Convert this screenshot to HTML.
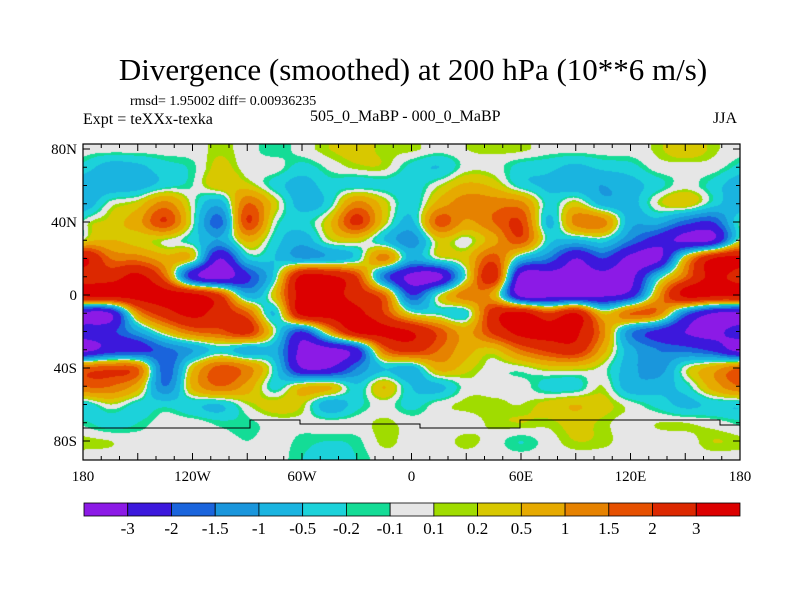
<!DOCTYPE html>
<html><head><meta charset="utf-8"><style>
body{margin:0;background:#fff;width:800px;height:600px;overflow:hidden;font-family:"Liberation Serif",serif;position:relative}
.t{position:absolute;white-space:nowrap;color:#000}
</style></head><body>
<div class="t" style="left:0;width:826px;text-align:center;top:52px;font-size:31px">Divergence (smoothed) at 200 hPa (10**6 m/s)</div>
<div class="t" style="left:130px;top:94px;font-size:14px">rmsd= 1.95002 diff= 0.00936235</div>
<div class="t" style="left:83px;top:111px;font-size:16px">Expt = teXXx-texka</div>
<div class="t" style="left:310px;top:108px;font-size:16px">505_0_MaBP - 000_0_MaBP</div>
<div class="t" style="left:713px;top:110px;font-size:16px">JJA</div>
<canvas id="map" width="657" height="316" style="position:absolute;left:83px;top:144px"></canvas>
<svg id="ov" width="800" height="600" style="position:absolute;left:0;top:0"></svg>
<script>
const lons=[-180,-165,-150,-135,-120,-105,-90,-75,-60,-45,-30,-15,0,15,30,45,60,75,90,105,120,135,150,165,180];
const lats=[80,70,60,50,40,30,20,10,0,-10,-20,-30,-40,-50,-60,-70,-80,-90];
const r80=[0,0,0,0,0,0.15,0,-0.2,0,0.2,0.3,0.15,0.15,0,0.1,0.15,0.15,0,0,0,0,0.15,0.4,0.15,0];
const r70=[-0.3,-0.7,-0.6,-0.3,-0.15,0.3,0,0,-0.3,-0.05,0.15,0.15,-0.3,-0.5,0,0,-0.3,-0.4,-0.6,-0.4,-0.3,0,0,0,-0.3];
const r60=[-0.8,-0.8,-0.7,-0.3,-0.1,0.4,0.3,-0.3,-0.7,-0.3,-0.3,-0.3,-0.4,0.1,0.6,0.4,-0.3,-0.6,-0.8,-1.0,-0.7,-0.3,0,-0.3,-0.8];
const r50=[-0.8,0,0.3,1.2,0,-0.8,1.5,0.3,-0.7,-0.3,1.2,0.3,-0.4,0.7,1.3,1.3,1.2,-0.3,0.3,-0.7,-0.7,0.1,0.4,-0.3,-0.8];
const r40=[-0.1,0.3,0.8,2,0,-1.7,2,0,-0.3,0.4,2.2,0.3,-0.6,1.7,0.9,1.5,2,-0.6,1.2,1.2,-0.8,-0.8,-1.7,-2,-0.1];
const r30=[0.1,0.5,0.3,0.1,-0.3,-1,0.6,-0.3,-0.8,0.1,0.3,-0.5,-1.3,0.3,0,0.8,1.8,-0.3,-0.6,-0.3,-1.5,-2.5,-3.2,-3,0.1];
const r20=[3.2,1.5,1.3,0.7,0.3,-3,-0.5,-0.5,-1,-0.8,-0.3,1.2,-0.8,0,0.4,1.8,-0.6,-1.5,-3,-2,-3.3,-3.3,0.5,3,3.2];
const r10=[2.5,2.5,3.3,1.5,-2.5,-3.5,-2.2,-0.3,3.3,3.2,2,-1.5,-3.3,-3.3,0,2.5,-3.4,-3.5,-3.4,-3.3,-3.3,-0.5,1.5,3.3,2.5];
const r0=[3.3,3.4,3.5,3.5,3.3,2,-0.8,0.4,3.5,3.5,2.5,1.5,-2,0,1.3,0.7,-3.4,-3.5,-3.4,-3.2,-2.5,0.8,3.3,3.3,3.3];
const rS10=[-3.3,-3,1,2.5,3.3,2.5,1.6,-0.5,3.4,3.5,3.3,2,0.1,-0.2,-0.3,2.5,3.3,2,3,0.4,1.5,1.3,-1.5,-3,-3.3];
const rS20=[-2.5,-2.2,-1,0.4,1.5,1.8,2.3,0,-2,0.8,3.3,3.3,3,1.8,0.8,2.2,3.4,3.4,3.2,1.2,-1.3,-2.2,-3,-3.3,-2.5];
const rS30=[-3.3,-2.5,-2.3,-1.7,-1,-0.3,-0.8,-0.8,-3.3,-3.3,-2.3,1.5,2.3,1.5,0.7,0.4,1.5,2.2,2.5,0.7,-0.8,-1.5,-1.7,-2.2,-3.3];
const rS40=[1.5,1.8,1.5,-1.8,0.4,1.7,1.2,-0.3,-3,-3,-1.5,-0.5,-0.7,0.7,0.3,0,0,0.3,0.3,0,-0.8,-1.3,0,0.7,1.5];
const rS50=[1.5,1.5,0.7,-1.5,0.6,1.5,0.8,-0.3,0.4,0.5,-0.4,0.5,-0.5,-0.6,0,0,0,-0.3,-0.3,0.1,-0.8,-0.7,-0.3,0.7,1.5];
const rS60=[-0.4,0.1,-0.3,-0.3,-0.4,-0.5,0.1,0.3,0.2,-0.8,-0.3,0,-0.3,0,0.15,0.15,0.1,0.3,0.5,0.3,0,-0.3,-0.6,-0.4,-0.4];
const rS70=[-0.15,-0.3,-0.2,0,0,-0.15,-0.15,0,0,0,0,0.15,0,0,0,0.15,0.2,0.15,0.3,0.15,0,0.1,0.1,0,-0.15];
const rS80=[0.15,0.1,0,0,0,0,-0.1,0,-0.15,-0.2,-0.15,0.15,0,0,0.15,0,-0.2,0,0.2,0.15,0,0,0,0.2,0.15];
const rS90=[0,0,0,0,0,0,0,0,-0.2,-0.2,-0.2,0,0,0,0,0,0,0,0,0,0,0,0,0,0];
const field=[r80,r70,r60,r50,r40,r30,r20,r10,r0,rS10,rS20,rS30,rS40,rS50,rS60,rS70,rS80,rS90];
const levels=[-3,-2,-1.5,-1,-0.5,-0.2,-0.1,0.1,0.2,0.5,1,1.5,2,3];
const levelLabels=["-3","-2","-1.5","-1","-0.5","-0.2","-0.1","0.1","0.2","0.5","1","1.5","2","3"];
const colors=["#8c1ae6","#3c18dc","#1a64dc","#1a96dc","#1ab4e0","#1cd2da","#14dc96","#e6e6e6","#a0dc00","#d8c800","#e6aa00","#e68200","#e65000","#dc2800","#dc0000"];
const xTicks=[-180,-120,-60,0,60,120,180];
const xTickLabels=["180","120W","60W","0","60E","120E","180"];
const yTicks=[80,40,0,-40,-80];
const yTickLabels=["80N","40N","0","40S","80S"];

const X0=83,X1=740,PPD=(X1-X0)/360,Y0LAT=295;
const xs=lon=>X0+(lon+180)*PPD;
const ys=lat=>Y0LAT-lat*PPD;

const cv=document.getElementById('map'),ctx=cv.getContext('2d');
const img=ctx.createImageData(cv.width,cv.height);
const rgb=colors.map(c=>[parseInt(c.slice(1,3),16),parseInt(c.slice(3,5),16),parseInt(c.slice(5,7),16)]);
function cr(p0,p1,p2,p3,t){return 0.5*((2*p1)+(-p0+p2)*t+(2*p0-5*p1+4*p2-p3)*t*t+(-p0+3*p1-3*p2+p3)*t*t*t);}
function g(j,i){j=Math.max(0,Math.min(lats.length-1,j));
  const n=lons.length-1;i=((i%n)+n)%n;return field[j][i];}
function sample(lon,lat){
  let fi=(lon-lons[0])/(lons[1]-lons[0]);
  let fj=(lats[0]-lat)/(lats[0]-lats[1]);fj=Math.max(0,Math.min(lats.length-1.0001,fj));
  const i=Math.floor(fi),j=Math.floor(fj),a=fi-i,b=fj-j;
  const row=k=>cr(g(k,i-1),g(k,i),g(k,i+1),g(k,i+2),a);
  return cr(row(j-1),row(j),row(j+1),row(j+2),b);
}
for(let py=0;py<cv.height;py++){
  const lat=(Y0LAT-(py+144+0.5))/PPD;
  for(let px=0;px<cv.width;px++){
    const lon=(px+0.5)/PPD-180;
    const v=sample(lon,lat);
    let k=0;while(k<levels.length&&v>levels[k])k++;
    const c=rgb[k],o=(py*cv.width+px)*4;
    img.data[o]=c[0];img.data[o+1]=c[1];img.data[o+2]=c[2];img.data[o+3]=255;
  }
}
ctx.putImageData(img,0,0);

const NS='http://www.w3.org/2000/svg',ov=document.getElementById('ov');
function mk(tag,attrs,parent){const e=document.createElementNS(NS,tag);for(const k in attrs)e.setAttribute(k,attrs[k]);(parent||ov).appendChild(e);return e;}
const coast=mk('polyline',{points:"83,428 250,428 250,420 300,420 300,424 420,424 420,428 520,428 520,420 720,420 720,425 740,425",fill:"none",stroke:"#000","stroke-width":1});


const frame=mk('rect',{x:83,y:144,width:657,height:316,fill:"none",stroke:"#000","stroke-width":1.2});


for(let lon=-180;lon<=180;lon+=10){
  const len=(lon%30===0)?7:4;
  const t1=mk('line',{x1:xs(lon),x2:xs(lon),y1:460,y2:460-len,stroke:"#000"});
  
  
  const t2=mk('line',{x1:xs(lon),x2:xs(lon),y1:144,y2:144+len,stroke:"#000"});
  
  
}
for(let lat=-80;lat<=80;lat+=10){
  const len=(lat%40===0)?7:4;
  const t1=mk('line',{x1:83,x2:83+len,y1:ys(lat),y2:ys(lat),stroke:"#000"});
  
  
  const t2=mk('line',{x1:740,x2:740-len,y1:ys(lat),y2:ys(lat),stroke:"#000"});
  
  
}
xTicks.forEach((v,i)=>{
  const t=mk('text',{x:xs(v),y:481,"text-anchor":"middle","font-size":15,"font-family":"Liberation Serif, serif"});
  t.textContent=xTickLabels[i];
  
  
});
yTicks.forEach((v,i)=>{
  const t=mk('text',{x:77,y:ys(v)+5,"text-anchor":"end","font-size":15,"font-family":"Liberation Serif, serif"});
  t.textContent=yTickLabels[i];
  
  
});
const CB0=84,CB1=740,cw=(CB1-CB0)/colors.length;
colors.forEach((c,i)=>{
  const r=mk('rect',{x:CB0+i*cw,y:503,width:cw,height:13,fill:c,stroke:"#000","stroke-width":0.8});
  
  
});
levelLabels.forEach((l,i)=>{
  const t=mk('text',{x:CB0+(i+1)*cw,y:534,"text-anchor":"middle","font-size":17,"font-family":"Liberation Serif, serif"});
  t.textContent=l;
  
  
});
</script>
</body></html>
